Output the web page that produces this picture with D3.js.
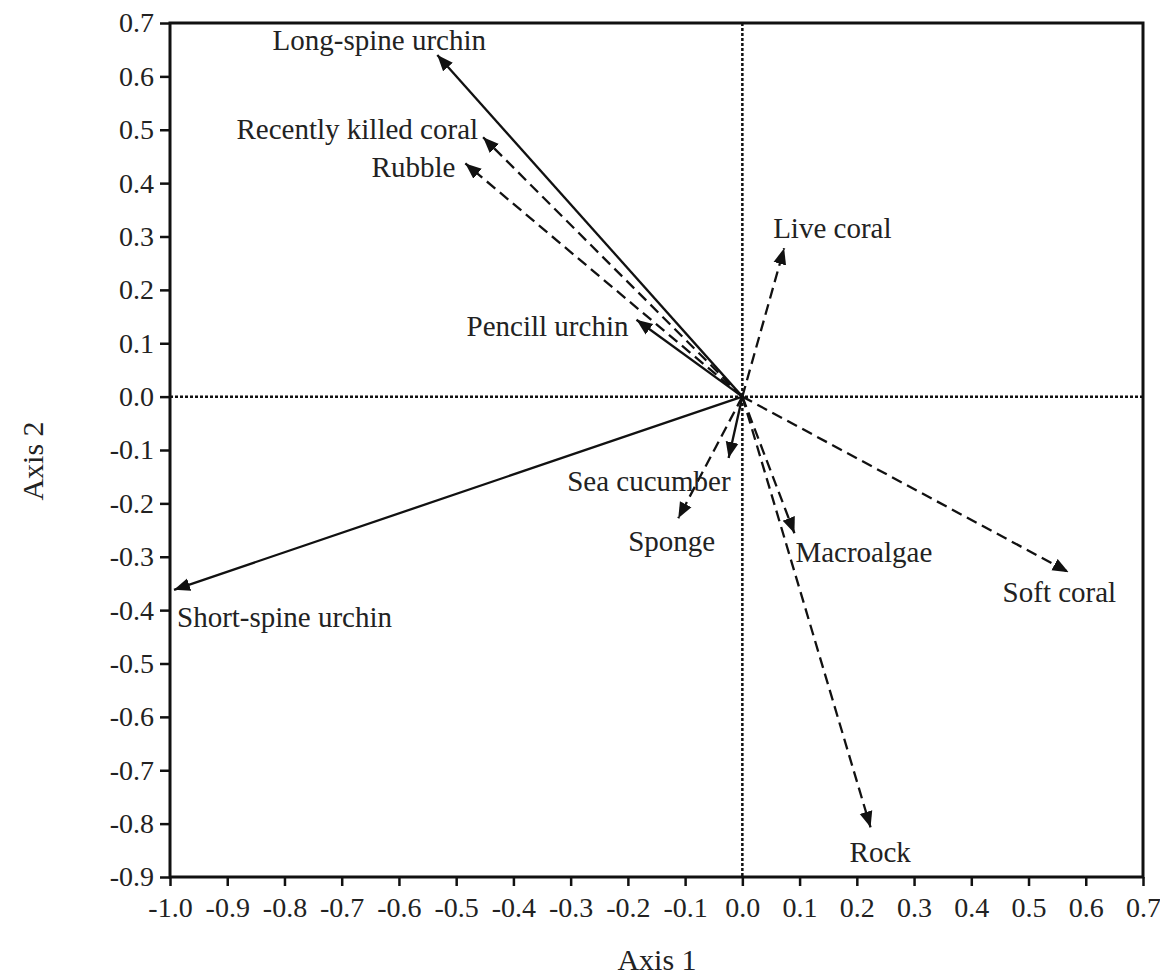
<!DOCTYPE html>
<html>
<head>
<meta charset="utf-8">
<script src="https://cdn.jsdelivr.net/npm/d3@7"></script>
<style>
  body { margin: 0; background: #fff; }
  text { font-family: "Liberation Serif", "Times New Roman", serif; fill: #222; }
</style>
</head>
<body>
<script>
// variables (vectors) of the ordination
const names = ['Long-spine urchin', 'Recently killed coral', 'Rubble', 'Pencill urchin', 'Live coral',
    'Short-spine urchin', 'Sea cucumber', 'Sponge', 'Macroalgae', 'Soft coral', 'Rock'];
const axis1 = [-0.533, -0.453, -0.484, -0.185, 0.073, -0.993, -0.024, -0.112, 0.091, 0.570, 0.224];
const axis2 = [0.640, 0.486, 0.437, 0.144, 0.278, -0.362, -0.115, -0.228, -0.256, -0.329, -0.807];
const solid = [true, false, false, true, false, true, true, false, false, false, false];

const xTicks = [-1.0, -0.9, -0.8, -0.7, -0.6, -0.5, -0.4, -0.3, -0.2, -0.1, 0.0, 0.1, 0.2, 0.3, 0.4, 0.5, 0.6, 0.7];
const yTicks = [-0.9, -0.8, -0.7, -0.6, -0.5, -0.4, -0.3, -0.2, -0.1, 0.0, 0.1, 0.2, 0.3, 0.4, 0.5, 0.6, 0.7];

// label placement relative to arrow tip (anchor, dx, dy)
const labelPos = [
    ['middle', -58, -5], ['end', -5, 2], ['end', -10, 14], ['end', -8, 16], ['start', -11, -10],
    ['start', 3, 37], ['end', 2, 33], ['start', -50, 33], ['start', 1, 29], ['start', -66, 30], ['start', -21, 35]
];

const W = 1160, H = 978;
const margin = { top: 23, right: 17, bottom: 101, left: 170 };
const width = W - margin.left - margin.right;
const height = H - margin.top - margin.bottom;

const svg = d3.select('body').append('svg')
    .attr('width', W)
    .attr('height', H);

svg.append('defs').append('marker')
    .attr('id', 'head')
    .attr('markerUnits', 'userSpaceOnUse')
    .attr('viewBox', '0 -7 16 14')
    .attr('refX', 16).attr('refY', 0)
    .attr('markerWidth', 16).attr('markerHeight', 14)
    .attr('orient', 'auto')
    .append('path')
    .attr('d', 'M0,-6.5L16,0L0,6.5Z')
    .attr('fill', '#111');

const g = svg.append('g').attr('transform', `translate(${margin.left},${margin.top})`);

const x = d3.scaleLinear().domain([-1.0, 0.7]).range([0, width]);
const y = d3.scaleLinear().domain([-0.9, 0.7]).range([height, 0]);

const fmt = v => d3.format('.1f')(v).replace('\u2212', '-');

// zero lines
g.append('line')
    .attr('x1', x(0)).attr('x2', x(0)).attr('y1', 0).attr('y2', height)
    .attr('stroke', '#111').attr('stroke-width', 2.5).attr('stroke-dasharray', '3,2');
g.append('line')
    .attr('x1', 0).attr('x2', width).attr('y1', y(0)).attr('y2', y(0))
    .attr('stroke', '#111').attr('stroke-width', 2.5).attr('stroke-dasharray', '3,2');

// axes
const xAxis = g.append('g')
    .attr('transform', `translate(0,${height})`)
    .call(d3.axisBottom(x).tickValues(xTicks).tickFormat(fmt).tickSize(9).tickPadding(7));
const yAxis = g.append('g')
    .call(d3.axisLeft(y).tickValues(yTicks).tickFormat(fmt).tickSize(10).tickPadding(6));
[xAxis, yAxis].forEach(a => {
    a.selectAll('.domain').remove();
    a.selectAll('.tick line').attr('stroke', '#111').attr('stroke-width', 2.5);
    a.selectAll('.tick text').style('font-size', '28px').attr('fill', '#222');
});
xAxis.selectAll('.tick text').attr('dy', '0.85em');

// frame
g.append('rect')
    .attr('width', width).attr('height', height)
    .attr('fill', 'none').attr('stroke', '#111').attr('stroke-width', 3);

// arrows
const idx = d3.range(names.length);
g.selectAll('.vec').data(idx).join('line')
    .attr('class', 'vec')
    .attr('x1', x(0)).attr('y1', y(0))
    .attr('x2', i => x(axis1[i])).attr('y2', i => y(axis2[i]))
    .attr('stroke', '#111')
    .attr('stroke-width', 2.3)
    .attr('stroke-dasharray', i => solid[i] ? null : '11,6')
    .attr('marker-end', 'url(#head)');

g.selectAll('.lab').data(idx).join('text')
    .attr('class', 'lab')
    .attr('x', i => x(axis1[i]) + labelPos[i][1])
    .attr('y', i => y(axis2[i]) + labelPos[i][2])
    .attr('text-anchor', i => labelPos[i][0])
    .style('font-size', '29px')
    .text(i => names[i]);

// axis titles
svg.append('text')
    .attr('x', 657).attr('y', 970)
    .attr('text-anchor', 'middle')
    .style('font-size', '30px').attr('fill', '#444')
    .text('Axis 1');
svg.append('text')
    .attr('transform', 'translate(43,461) rotate(-90)')
    .attr('text-anchor', 'middle')
    .style('font-size', '30px').attr('fill', '#444')
    .text('Axis 2');
</script>
</body>
</html>
